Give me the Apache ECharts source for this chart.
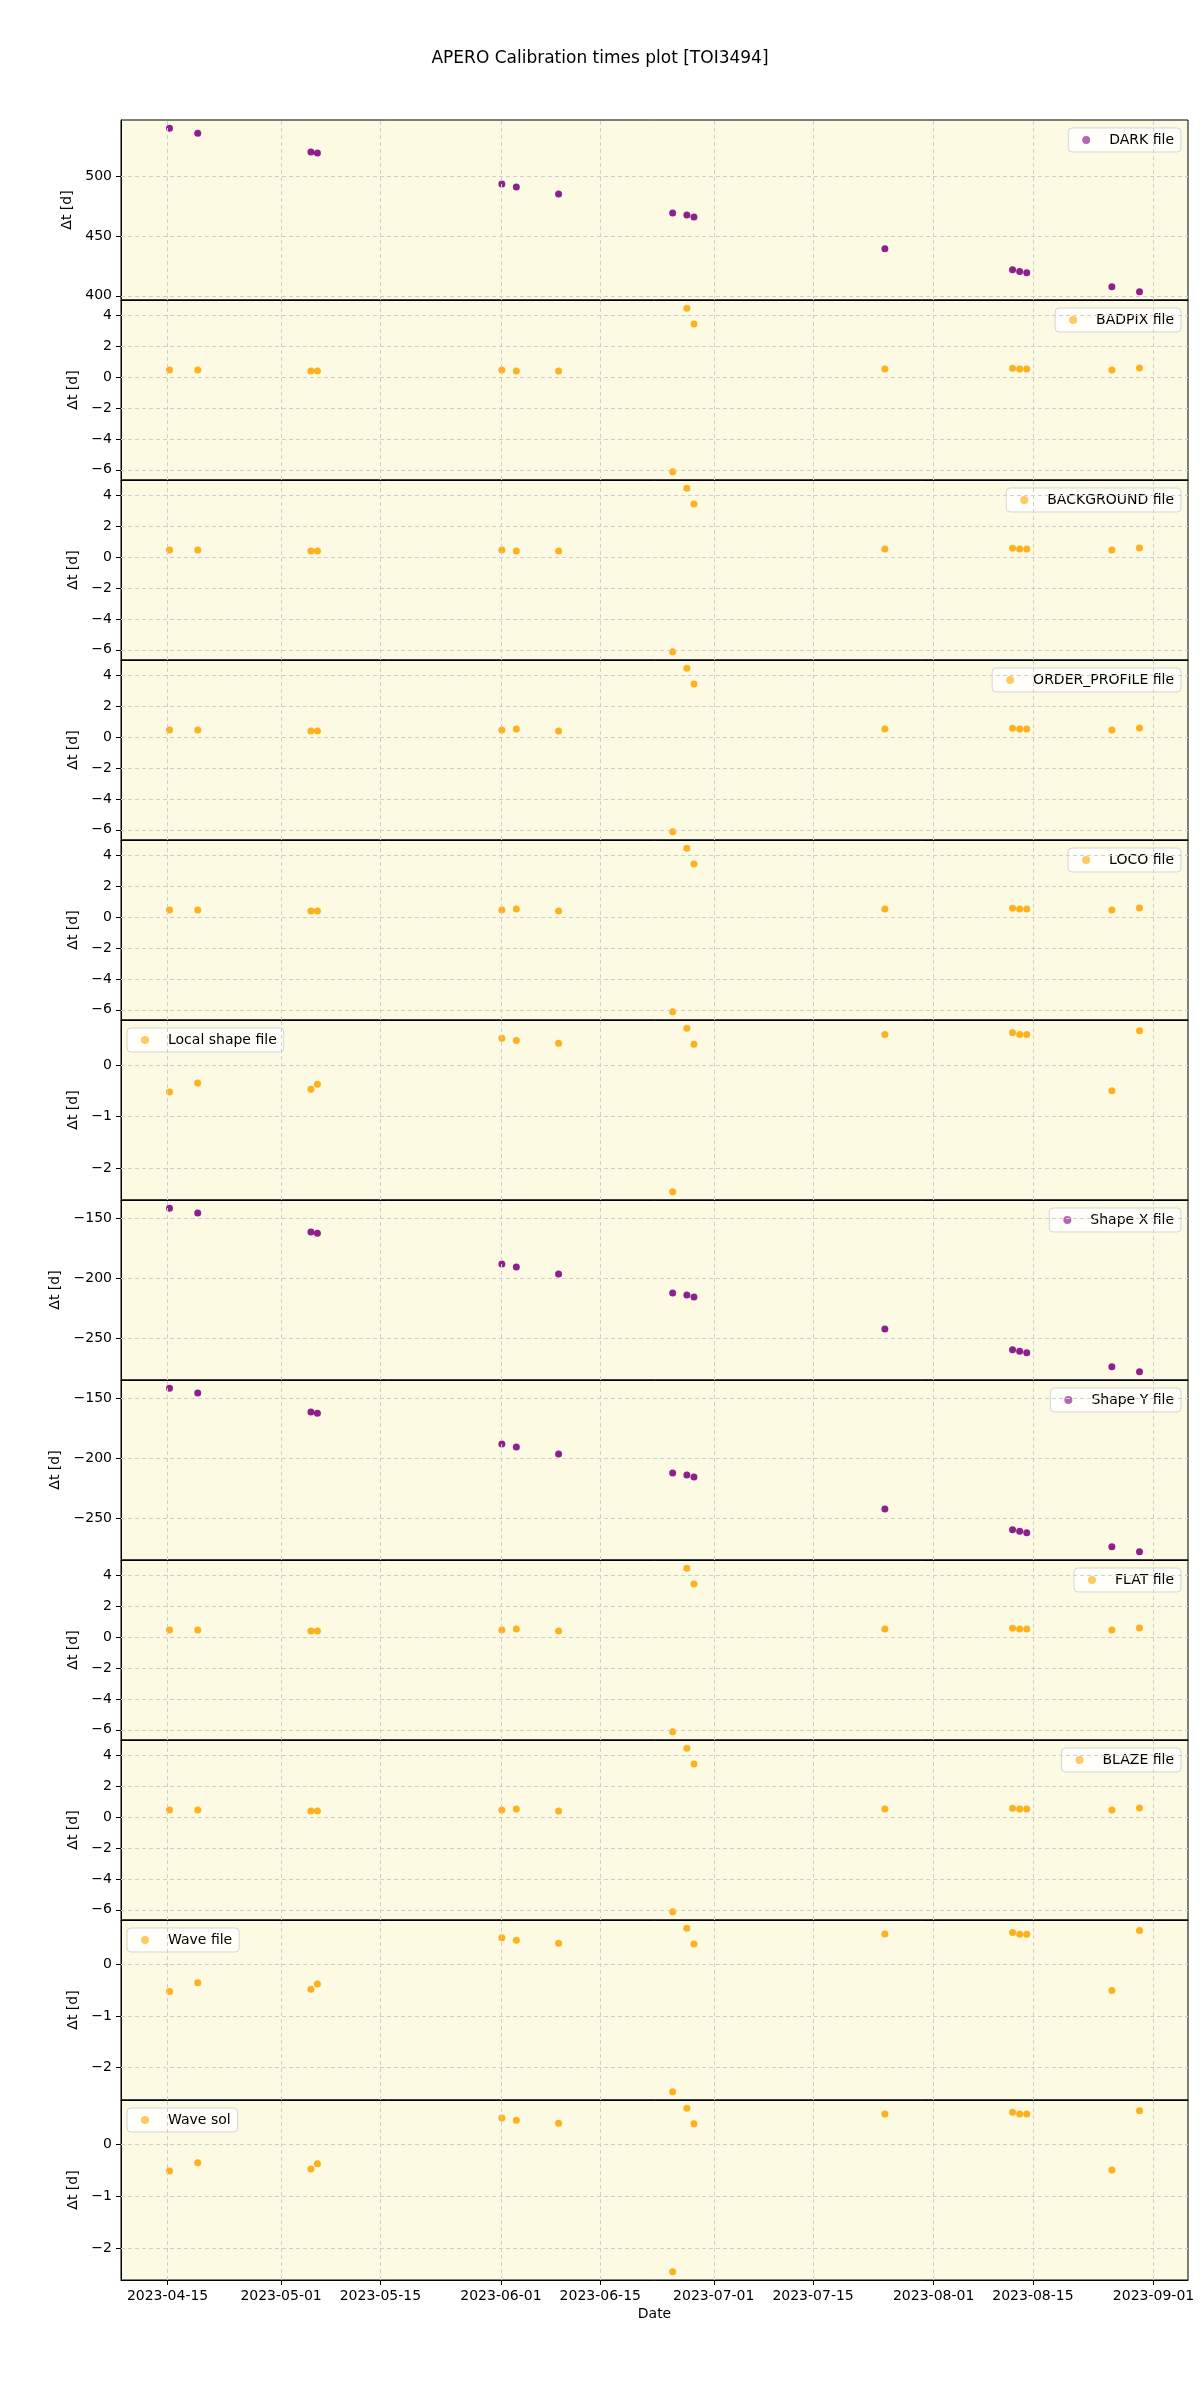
<!DOCTYPE html>
<html><head><meta charset="utf-8">
<script src="https://cdn.jsdelivr.net/npm/echarts@6/dist/echarts.min.js"></script>
<style>html,body{margin:0;padding:0;background:#fff}#c{width:1200px;height:2400px}</style>
</head><body><div id="c"></div>
<script>
// ---------- data ----------
const dates = ['2023-04-15T06:30:00','2023-04-19T06:00:00','2023-05-05T05:00:00','2023-05-06T03:00:00',
  '2023-06-01T03:00:00','2023-06-03T04:00:00','2023-06-09T03:00:00','2023-06-25T05:00:00',
  '2023-06-27T05:00:00','2023-06-28T05:00:00','2023-07-25T03:00:00','2023-08-12T03:00:00',
  '2023-08-13T03:00:00','2023-08-14T03:00:00','2023-08-26T03:00:00','2023-08-30T00:30:00'];
const darkVals = [540,535.8,520,519.2,493.3,490.8,485,469.2,467.5,465.8,439.2,421.7,420.3,419.2,407.5,403.3];
const badpixVals = [0.45,0.45,0.39,0.39,0.45,0.39,0.39,-6.13,4.45,3.42,0.52,0.56,0.52,0.52,0.45,0.58];
const backgroundVals = [0.45,0.45,0.39,0.39,0.45,0.39,0.39,-6.13,4.45,3.42,0.52,0.56,0.52,0.52,0.45,0.58];
const orderProfileVals = [0.45,0.45,0.39,0.39,0.45,0.52,0.39,-6.13,4.45,3.42,0.52,0.56,0.52,0.52,0.45,0.58];
const locoVals = [0.45,0.45,0.39,0.39,0.45,0.52,0.39,-6.13,4.45,3.42,0.52,0.56,0.52,0.52,0.45,0.58];
const localShapeVals = [-0.52,-0.35,-0.47,-0.375,0.515,0.47,0.42,-2.45,0.71,0.40,0.59,0.62,0.59,0.59,-0.50,0.66];
const shapeXVals = [-141.4,-145.5,-161.4,-162.3,-188.2,-190.7,-196.5,-212.4,-214.1,-215.7,-242.5,-260.0,-261.1,-262.5,-274.2,-278.4];
const shapeYVals = [-141.4,-145.5,-161.4,-162.3,-188.2,-190.7,-196.5,-212.4,-214.1,-215.7,-242.5,-260.0,-261.1,-262.5,-274.2,-278.4];
const flatVals = [0.45,0.45,0.39,0.39,0.45,0.52,0.39,-6.13,4.45,3.42,0.52,0.56,0.52,0.52,0.45,0.58];
const blazeVals = [0.45,0.45,0.39,0.39,0.45,0.52,0.39,-6.13,4.45,3.42,0.52,0.56,0.52,0.52,0.45,0.58];
const waveFileVals = [-0.52,-0.35,-0.48,-0.377,0.52,0.474,0.416,-2.47,0.708,0.403,0.597,0.623,0.59,0.59,-0.50,0.662];
const waveSolVals = [-0.51,-0.35,-0.47,-0.37,0.51,0.47,0.41,-2.45,0.70,0.40,0.59,0.62,0.59,0.59,-0.49,0.65];

const xTickDates = ['2023-04-15','2023-05-01','2023-05-15','2023-06-01','2023-06-15','2023-07-01','2023-07-15','2023-08-01','2023-08-15','2023-09-01'];
const darkTicks = [400,450,500];
const smallTicks = [-6,-4,-2,0,2,4];
const unitTicks = [-2,-1,0];
const shapeTicks = [-250,-200,-150];

const titleText = 'APERO Calibration times plot [TOI3494]';
const yName = 'Δt [d]';
const xName = 'Date';

// ---------- panel config ----------
const PURPLE = '#800080', ORANGE = '#FFA500';
const panels = [
  {name:'DARK file', values:darkVals, ticks:darkTicks, color:PURPLE, side:'right', gap:44},
  {name:'BADPIX file', values:badpixVals, ticks:smallTicks, color:ORANGE, side:'right', gap:39},
  {name:'BACKGROUND file', values:backgroundVals, ticks:smallTicks, color:ORANGE, side:'right', gap:39},
  {name:'ORDER_PROFILE file', values:orderProfileVals, ticks:smallTicks, color:ORANGE, side:'right', gap:39},
  {name:'LOCO file', values:locoVals, ticks:smallTicks, color:ORANGE, side:'right', gap:39},
  {name:'Local shape file', values:localShapeVals, ticks:unitTicks, color:ORANGE, side:'left', gap:39},
  {name:'Shape X file', values:shapeXVals, ticks:shapeTicks, color:PURPLE, side:'right', gap:55},
  {name:'Shape Y file', values:shapeYVals, ticks:shapeTicks, color:PURPLE, side:'right', gap:55},
  {name:'FLAT file', values:flatVals, ticks:smallTicks, color:ORANGE, side:'right', gap:39},
  {name:'BLAZE file', values:blazeVals, ticks:smallTicks, color:ORANGE, side:'right', gap:39},
  {name:'Wave file', values:waveFileVals, ticks:unitTicks, color:ORANGE, side:'left', gap:39},
  {name:'Wave sol', values:waveSolVals, ticks:unitTicks, color:ORANGE, side:'left', gap:39}
];

const FONT = 'DejaVu Sans';
const top0 = 120, ph = 180, gLeft = 121, gRight = 12;
const xData = dates.map(d => new Date(d).getTime());
const xTickVals = xTickDates.map(d => new Date(d + 'T00:00:00').getTime());
const xmn = Math.min(...xData), xmx = Math.max(...xData);
const xpad = 0.05 * (xmx - xmn);
const fmtNum = v => (v < 0 ? '\u2212' : '') + Math.abs(v);
const pad2 = n => (n < 10 ? '0' : '') + n;
const fmtDate = v => { const d = new Date(v); return d.getFullYear() + '-' + pad2(d.getMonth() + 1) + '-' + pad2(d.getDate()); };

const grids = [], xAxes = [], yAxes = [], series = [], legends = [];
panels.forEach((p, i) => {
  const last = i === panels.length - 1;
  const top = top0 + i * ph;
  grids.push({left: gLeft, right: gRight, top: top, height: ph, show: true,
    backgroundColor: '#FCFAE2', borderColor: '#000', borderWidth: 1, containLabel: false});
  xAxes.push({type: 'value', gridIndex: i, min: xmn - xpad, max: xmx + xpad, scale: true,
    axisLine: {show: true, onZero: false, lineStyle: {color: '#000', width: 1}},
    axisTick: {show: last, customValues: xTickVals, length: 5, lineStyle: {color: '#000'}},
    axisLabel: {show: last, customValues: xTickVals, formatter: fmtDate, fontSize: 14, color: '#000', fontFamily: FONT, margin: 9},
    splitLine: {show: false},
    name: last ? xName : '', nameLocation: 'middle', nameGap: 27,
    nameTextStyle: {fontSize: 14, color: '#000', fontFamily: FONT}});
  const vmn = Math.min(...p.values), vmx = Math.max(...p.values);
  const vpad = 0.05 * (vmx - vmn);
  yAxes.push({type: 'value', gridIndex: i, min: vmn - vpad, max: vmx + vpad, scale: true,
    axisLine: {show: true, onZero: false, lineStyle: {color: '#000', width: 1}},
    axisTick: {show: true, customValues: p.ticks, length: 5, lineStyle: {color: '#000'}},
    axisLabel: {customValues: p.ticks, formatter: fmtNum, fontSize: 14, color: '#000', fontFamily: FONT, margin: 9},
    splitLine: {show: false},
    name: yName, nameLocation: 'middle', nameRotate: 90, nameGap: p.gap,
    nameTextStyle: {fontSize: 14, color: '#000', fontFamily: FONT}});
  // grid lines via markLine, drawn from tick arrays through the axes
  series.push({type: 'line', xAxisIndex: i, yAxisIndex: i, data: [], silent: true, z: 1, animation: false,
    markLine: {silent: true, symbol: ['none', 'none'], animation: false, label: {show: false},
      lineStyle: {type: [4, 3], color: '#cfcfcf', width: 1},
      emphasis: {disabled: true},
      data: xTickVals.map(v => ({xAxis: v})).concat(p.ticks.map(v => ({yAxis: v})))}});
  series.push({type: 'scatter', name: p.name, xAxisIndex: i, yAxisIndex: i, z: 3, animation: false,
    symbol: 'circle', symbolSize: 7,
    itemStyle: {color: p.color, opacity: 0.88},
    data: xData.map((x, j) => [x, p.values[j]])});
  const lg = {data: [p.name], top: top + 8, orient: 'horizontal', selectedMode: false,
    backgroundColor: 'rgba(255,255,255,0.8)', borderColor: '#d5d5d5', borderWidth: 1, borderRadius: 4,
    padding: [5, 7, 5, 14], itemWidth: 8, itemHeight: 8, icon: 'circle',
    itemStyle: {opacity: 0.6},
    textStyle: {fontSize: 14, color: '#000', fontFamily: FONT, padding: [0, 0, 0, 14]}};
  if (p.side === 'right') lg.right = 19; else lg.left = 127;
  legends.push(lg);
});

const chart = echarts.init(document.getElementById('c'), null, {renderer: 'canvas'});
chart.setOption({
  animation: false,
  backgroundColor: '#fff',
  title: {text: titleText, left: 'center', top: 45,
    textStyle: {fontSize: 17, fontWeight: 'normal', color: '#000', fontFamily: FONT}},
  grid: grids, xAxis: xAxes, yAxis: yAxes, legend: legends, series: series
});
</script></body></html>
